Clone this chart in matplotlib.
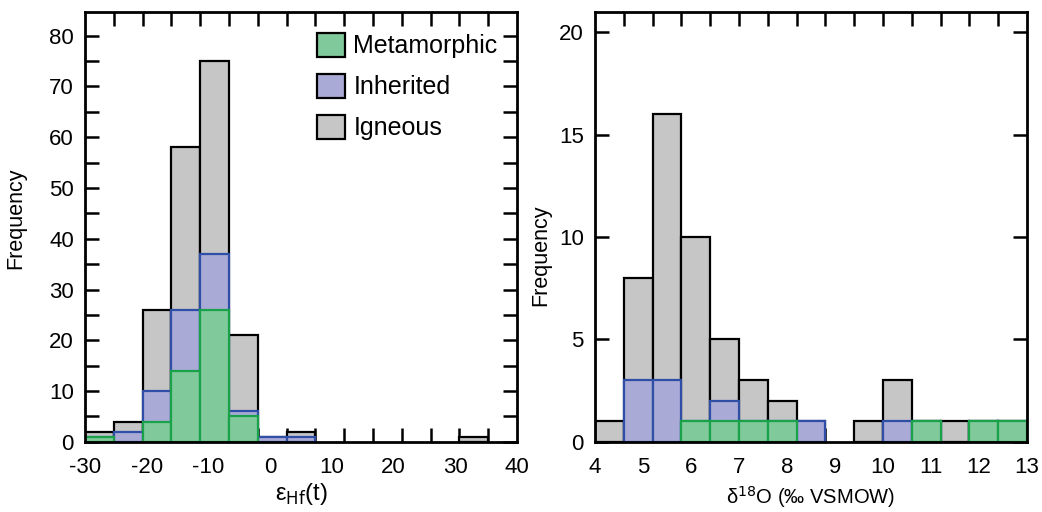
import numpy as np
import matplotlib
matplotlib.use('Agg')
import matplotlib.pyplot as plt
from matplotlib.patches import Patch

plt.rcParams['font.family'] = ['Liberation Sans', 'DejaVu Sans']

# epsilon Hf(t): 15 bins over -30..40
hf_edges = np.linspace(-30, 40, 16)
hf_met = [1, 0, 4, 14, 26, 5, 0, 0, 0, 0, 0, 0, 0, 0, 0]
hf_inh = [0, 2, 6, 12, 11, 1, 1, 1, 0, 0, 0, 0, 0, 0, 0]
hf_ign = [1, 2, 16, 32, 38, 15, 0, 1, 0, 0, 0, 0, 0, 1, 0]
hf_ticks = [-30, -20, -10, 0, 10, 20, 30, 40]

# delta 18O: 15 bins over 4..13
o_edges = np.linspace(4, 13, 16)
o_met = [0, 0, 0, 1, 1, 1, 1, 0, 0, 0, 0, 1, 0, 1, 1]
o_inh = [0, 3, 3, 0, 1, 0, 0, 1, 0, 0, 1, 0, 0, 0, 0]
o_ign = [1, 5, 13, 9, 3, 2, 1, 0, 0, 1, 2, 0, 1, 0, 0]
o_ticks = [4, 5, 6, 7, 8, 9, 10, 11, 12, 13]

green_fc, green_ec = '#7fc99a', '#1aa24a'
blue_fc, blue_ec = '#aaaad6', '#2f4fa6'
gray_fc, gray_ec = '#c6c6c6', '#000000'


def stacked_hist(ax, edges, met, inh, ign):
    left = edges[:-1]
    w = np.diff(edges)
    met = np.array(met)
    inh = np.array(inh)
    ign = np.array(ign)
    total = met + inh + ign
    lw = 1.6
    m = total > 0
    ax.bar(left[m], total[m], width=w[m], align='edge', color=gray_fc,
           edgecolor=gray_ec, linewidth=lw, zorder=2)
    m = (met + inh) > 0
    ax.bar(left[m], (met + inh)[m], width=w[m], align='edge', color=blue_fc,
           edgecolor=blue_ec, linewidth=lw, zorder=3)
    m = met > 0
    ax.bar(left[m], met[m], width=w[m], align='edge', color=green_fc,
           edgecolor=green_ec, linewidth=lw, zorder=4)


def style_axes(ax, edges, ticks, xlim, ylim, ymajor, yminor=None):
    ax.set_xlim(*xlim)
    ax.set_ylim(*ylim)
    # tick marks at bin edges, labels at round numbers
    ax.xaxis.remove_overlapping_locs = False
    ax.set_xticks(edges[1:-1])
    ax.set_xticklabels([])
    ax.set_xticks(ticks, minor=True)
    ax.set_xticklabels([str(t) for t in ticks], minor=True, fontsize=16)
    ax.tick_params(axis='x', which='major', direction='in', length=10,
                   width=1.8, top=True, bottom=True)
    ax.tick_params(axis='x', which='minor', length=0, pad=11)
    ax.set_yticks(ymajor)
    ax.set_yticklabels([str(t) for t in ymajor], fontsize=16)
    if yminor is not None:
        ax.set_yticks(yminor, minor=True)
    ax.tick_params(axis='y', which='both', direction='in', length=10,
                   width=1.8, left=True, right=True, pad=8)
    for s in ax.spines.values():
        s.set_linewidth(2)
        s.set_zorder(6)
    ax.set_ylabel('Frequency', fontsize=15.5)


fig = plt.figure(figsize=(10.42, 5.12), dpi=100)
ax1 = fig.add_axes([0.0816, 0.137, 0.4146, 0.840])
ax2 = fig.add_axes([0.571, 0.137, 0.4146, 0.840])

stacked_hist(ax1, hf_edges, hf_met, hf_inh, hf_ign)
style_axes(ax1, hf_edges, hf_ticks, (-30, 40), (0, 84.7),
           np.arange(0, 81, 10), np.arange(5, 81, 10))
ax1.set_xlabel(r'ε$_{\mathrm{Hf}}$(t)', fontsize=17, labelpad=2)
ax1.yaxis.set_label_coords(-0.137, 0.52)

stacked_hist(ax2, o_edges, o_met, o_inh, o_ign)
style_axes(ax2, o_edges, o_ticks, (4, 13), (0, 21), np.arange(0, 21, 5))
ax2.set_xlabel(r'δ$^{18}$O (‰ VSMOW)', fontsize=14.5, labelpad=4)
ax2.yaxis.set_label_coords(-0.102, 0.435)

handles = [Patch(facecolor=green_fc, edgecolor='black', linewidth=1.6, label='Metamorphic'),
           Patch(facecolor=blue_fc, edgecolor='black', linewidth=1.6, label='Inherited'),
           Patch(facecolor=gray_fc, edgecolor='black', linewidth=1.6, label='Igneous')]
ax1.legend(handles=handles, loc='upper right', frameon=False, fontsize=18,
           handlelength=1.1, handleheight=1.1, handletextpad=0.35,
           labelspacing=0.62, borderaxespad=0.0,
           bbox_to_anchor=(0.978, 0.975))

fig.savefig('out.png', dpi=100)
